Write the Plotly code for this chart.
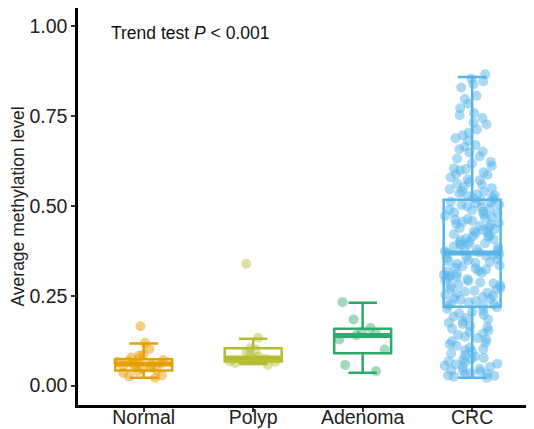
import plotly.graph_objects as go

# ---- data ----
groups = ["Normal", "Polyp", "Adenoma", "CRC"]
colors = ["#E69F00", "#B5BD2E", "#2EAA6A", "#56B4E9"]
point_colors = ["rgba(230,159,0,0.5)", "rgba(181,189,46,0.45)", "rgba(46,170,106,0.45)", "rgba(86,180,233,0.5)"]

normal_vals = [0.165, 0.119, 0.102, 0.086, 0.083, 0.078, 0.075, 0.071, 0.068, 0.066,
               0.062, 0.060, 0.058, 0.055, 0.052, 0.050, 0.047, 0.044, 0.040, 0.035,
               0.028, 0.025, 0.022]
polyp_vals = [0.339, 0.133, 0.104, 0.100, 0.092, 0.085, 0.080, 0.077, 0.074, 0.071,
              0.068, 0.066, 0.063, 0.058]
adenoma_vals = [0.232, 0.184, 0.160, 0.150, 0.145, 0.140, 0.128, 0.100, 0.057, 0.040]
crc_vals = [0.866, 0.853, 0.846, 0.838, 0.829, 0.806, 0.797, 0.784, 0.771, 0.758, 0.752, 0.744,
            0.731, 0.726, 0.712, 0.703, 0.696, 0.688, 0.681, 0.669, 0.664, 0.657, 0.651, 0.648,
            0.637, 0.631, 0.622, 0.618, 0.611, 0.604, 0.602, 0.598, 0.593, 0.588, 0.586, 0.579,
            0.574, 0.571, 0.566, 0.561, 0.559, 0.553, 0.549, 0.546, 0.541, 0.539, 0.534, 0.532,
            0.529, 0.527, 0.524, 0.521, 0.518, 0.515, 0.512, 0.509, 0.507, 0.504, 0.502, 0.499,
            0.495, 0.493, 0.489, 0.487, 0.484, 0.481, 0.479, 0.476, 0.472, 0.469, 0.467, 0.463,
            0.461, 0.458, 0.455, 0.452, 0.449, 0.447, 0.444, 0.441, 0.438, 0.435, 0.433, 0.429,
            0.427, 0.424, 0.421, 0.418, 0.416, 0.413, 0.409, 0.407, 0.404, 0.401, 0.398, 0.396,
            0.393, 0.391, 0.387, 0.385, 0.382, 0.379, 0.377, 0.374, 0.371, 0.369, 0.366, 0.363,
            0.361, 0.357, 0.355, 0.352, 0.349, 0.346, 0.343, 0.341, 0.338, 0.334, 0.332, 0.328,
            0.326, 0.323, 0.319, 0.317, 0.314, 0.311, 0.308, 0.305, 0.302, 0.299, 0.296, 0.293,
            0.291, 0.287, 0.284, 0.281, 0.279, 0.276, 0.272, 0.269, 0.267, 0.264, 0.261, 0.258,
            0.255, 0.252, 0.249, 0.246, 0.243, 0.241, 0.238, 0.235, 0.232, 0.229, 0.226, 0.223,
            0.221, 0.218, 0.214, 0.209, 0.205, 0.201, 0.197, 0.192, 0.188, 0.184, 0.179, 0.175,
            0.171, 0.166, 0.162, 0.158, 0.153, 0.149, 0.145, 0.141, 0.136, 0.132, 0.128, 0.123,
            0.119, 0.115, 0.111, 0.106, 0.102, 0.098, 0.094, 0.089, 0.085, 0.081, 0.077, 0.072,
            0.068, 0.064, 0.059, 0.055, 0.051, 0.047, 0.043, 0.039, 0.035, 0.031, 0.028, 0.025,
            0.022, 0.027, 0.033, 0.041, 0.052, 0.061, 0.074]
point_values = [normal_vals, polyp_vals, adenoma_vals, crc_vals]

# box statistics
q1_vals = [0.042, 0.067, 0.090, 0.219]
median_vals = [0.060, 0.077, 0.139, 0.369]
q3_vals = [0.073, 0.104, 0.158, 0.517]
lower_whisker = [0.022, 0.060, 0.036, 0.022]
upper_whisker = [0.117, 0.130, 0.230, 0.858]

y_ticks = [0.0, 0.25, 0.5, 0.75, 1.0]
y_tick_labels = ["0.00", "0.25", "0.50", "0.75", "1.00"]
annotation_text = "Trend test <i>P</i> < 0.001"
y_title = "Average methylation level"

BOX_W = 0.52

fig = go.Figure()

# jittered points
for g, vals, pc in zip(groups, point_values, point_colors):
    fig.add_trace(go.Box(
        x=[g] * len(vals), y=vals, boxpoints="all", jitter=1.0, pointpos=0,
        width=BOX_W, line=dict(width=0, color="rgba(0,0,0,0)"), fillcolor="rgba(0,0,0,0)",
        marker=dict(color=pc, size=10, line=dict(width=0)),
        showlegend=False, hoverinfo="y"))

# boxes
for i, g in enumerate(groups):
    fig.add_trace(go.Box(
        x=[g], q1=[q1_vals[i]], median=[median_vals[i]], q3=[q3_vals[i]],
        lowerfence=[lower_whisker[i]], upperfence=[upper_whisker[i]],
        width=BOX_W, boxpoints=False, fillcolor="rgba(0,0,0,0)",
        line=dict(color=colors[i], width=2.5), showlegend=False))
    # thicker median line
    m = median_vals[i]
    fig.add_trace(go.Box(
        x=[g], q1=[m], median=[m], q3=[m], lowerfence=[m], upperfence=[m],
        width=BOX_W, boxpoints=False, fillcolor="rgba(0,0,0,0)",
        line=dict(color=colors[i], width=5), showlegend=False, hoverinfo="skip"))

# the page body has an 8px margin, so the figure is sized to fit the window
fig.update_layout(
    width=526, height=421,
    margin=dict(l=70, r=0, t=0, b=24),
    paper_bgcolor="white", plot_bgcolor="white",
    boxmode="overlay",
    font=dict(family="Liberation Sans, Arial, sans-serif", color="#222"),
    showlegend=False,
)
fig.update_xaxes(
    type="category", categoryorder="array", categoryarray=groups,
    range=[-0.6, 3.565], showgrid=False, zeroline=False,
    showline=True, linecolor="black", linewidth=2.5,
    ticks="outside", ticklen=4, tickcolor="#333", tickwidth=1.5,
    ticklabelstandoff=-11,
    tickfont=dict(size=19.5, color="#222"), automargin=False)
fig.update_yaxes(
    range=[-0.054, 1.05], tickvals=y_ticks, ticktext=y_tick_labels,
    showgrid=False, zeroline=False,
    showline=True, linecolor="black", linewidth=2.5,
    ticks="outside", ticklen=4, tickcolor="#333", tickwidth=1.5,
    tickfont=dict(size=19.5, color="#222"), automargin=False,
    title=dict(text=y_title, font=dict(size=17.5, color="#222"), standoff=4))

fig.add_annotation(
    xref="paper", yref="paper", x=0.068, y=0.937, xanchor="left", yanchor="middle",
    text=annotation_text, showarrow=False, font=dict(size=17.5, color="#111"))

fig.write_html("out.html")
